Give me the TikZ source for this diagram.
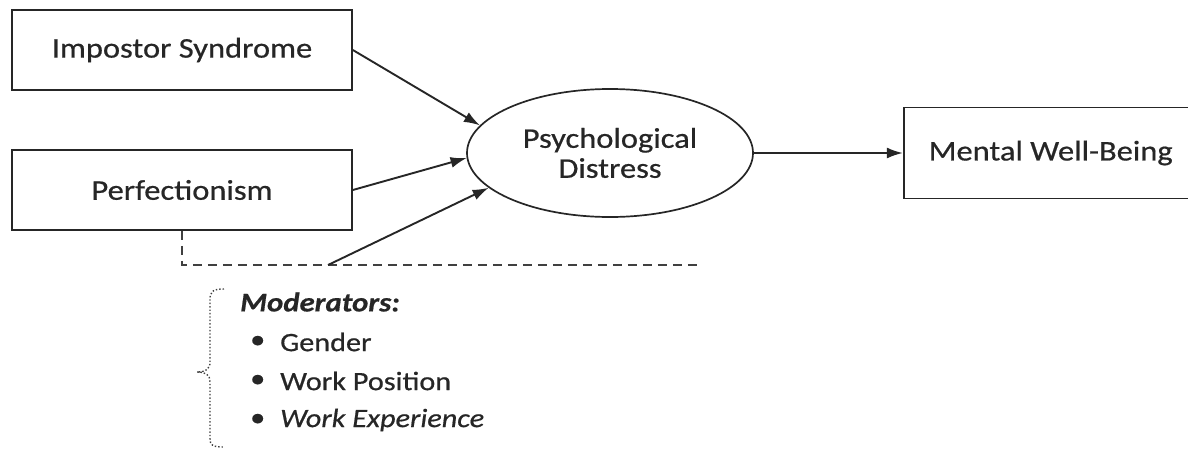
\documentclass[tikz,border=0pt]{standalone}
\usepackage{fontspec}
\setmainfont[FakeStretch=1.14, FakeBold=0.6]{Carlito}
\usetikzlibrary{positioning,shapes.geometric,arrows.meta}

\begin{document}
\begin{tikzpicture}[x=1pt, y=-1pt, node distance=140pt, text=black!85,
  block/.style={draw=black!85, line width=1.7pt, minimum width=340pt, minimum height=80pt, inner sep=0pt, font=\fontsize{28.5}{30}\selectfont},
  latent/.style={draw=black!85, ellipse, line width=1.7pt, minimum width=286pt, minimum height=128pt, inner sep=0pt, align=center, font=\fontsize{28.5}{30}\selectfont},
  effect/.style={-{Latex[length=16pt,width=11pt]}, line width=1.9pt, draw=black!85},
  modline/.style={dash pattern=on 9pt off 6pt, line width=2pt, draw=black!75},
  listitem/.style={anchor=west, inner sep=0pt, font=\fontsize{26.5}{28}\selectfont}]

  \clip (0,0) rectangle (1188,450);

  % Predictors
  \node[block] (impostor) at (182,50) {Impostor Syndrome};
  \node[block, below of=impostor] (perfection) {Perfectionism};

  % Mediator and outcome
  \node[latent] (distress) at (610,153) {Psychological\\Distress};
  \node[block, right=149pt of distress, minimum width=294pt, minimum height=91pt] (wellbeing) {Mental Well-Being};

  % Moderator line
  \coordinate (modcorner) at (perfection.south |- 0,265);
  \coordinate (modend) at (700,265);
  \coordinate (modfoot) at (328,265);
  \draw[modline] (perfection.south) -- (modcorner) -- (modend);

  % Moderators
  \node[listitem, font=\fontsize{27}{28}\selectfont\bfseries\itshape] (modtitle) at (240,302) {Moderators:};
  \node[listitem] (b1) at (250,342) {•};
  \node[listitem] (gender) at (280,342) {Gender};
  \node[listitem] (b2) at (250,381) {•};
  \node[listitem] (position) at (280,381) {Work Position};
  \node[listitem] (b3) at (250,420) {•};
  \node[listitem, font=\fontsize{26.5}{28}\selectfont\itshape] (experience) at (280,420) {Work Experience};

  % brace
  \coordinate (bracetop) at (224,289);
  \coordinate (bracetip) at (197,372);
  \coordinate (bracelow) at (224,447);
  \draw[dotted, line width=1.4pt, draw=black!75]
    (bracetop) .. controls (212,289) and (210,292) .. (210,300) -- (210,362)
    .. controls (210,369) and (206,372) .. (bracetip)
    .. controls (206,372) and (210,375) .. (210,382) -- (210,438)
    .. controls (210,445) and (212,447) .. (bracelow);

  % Arrows
  \draw[effect] (impostor.east) -- (distress.168);
  \draw[effect] (perfection.east) -- (distress.182);
  \draw[effect] (modfoot) -- (distress.196);
  \draw[effect] (distress.east) -- (wellbeing.west);

\end{tikzpicture}
\end{document}
